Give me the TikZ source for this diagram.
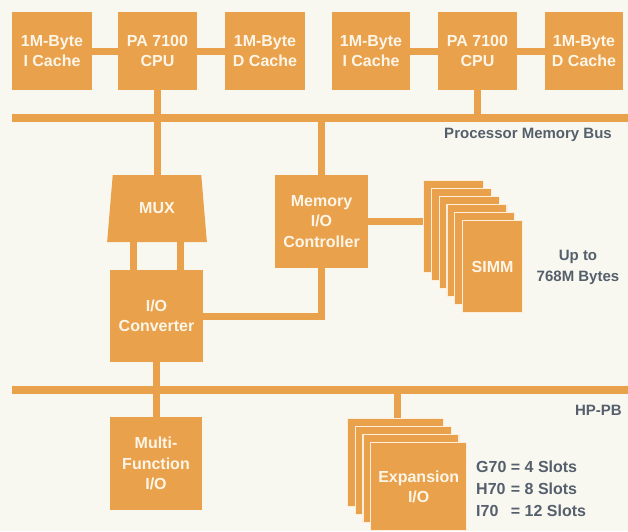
\documentclass[tikz,border=0pt]{standalone}
\usepackage{fontspec}
\setmainfont{Liberation Sans}
\usetikzlibrary{shapes.geometric}
\definecolor{hporange}{RGB}{233,161,76}
\definecolor{bgcream}{RGB}{248,248,240}
\definecolor{boxtext}{RGB}{253,246,232}
\definecolor{labelgray}{RGB}{85,96,108}
\definecolor{cardedge}{RGB}{252,238,218}
\begin{document}
\begin{tikzpicture}[x=1pt,y=-1pt,
  blk/.style={fill=hporange, text=boxtext, font=\fontsize{16}{20.5}\selectfont\bfseries, align=center, inner sep=0pt},
  link/.style={draw=hporange, line width=7pt},
  bus/.style={draw=hporange, line width=7.5pt},
  card/.style={fill=hporange, draw=cardedge, line width=1.2pt, inner sep=0pt, anchor=north west, text=boxtext, font=\fontsize{16}{20.5}\selectfont\bfseries, align=center},
  simmcard/.style={card, minimum width=60pt, minimum height=92pt},
  expcard/.style={card, minimum width=96pt, minimum height=88pt},
  lbl/.style={text=labelgray, font=\fontsize{15}{21}\selectfont\bfseries, align=center, inner sep=0pt}
]
\fill[bgcream] (0,0) rectangle (628,531);
\useasboundingbox (0,0) rectangle (628,531);

% top row
\node[blk, minimum width=80pt, minimum height=78pt] (ic1) at (52,51) {1M-Byte\\I Cache};
\node[blk, minimum width=79pt, minimum height=78pt] (cpu1) at (157.5,51) {PA 7100\\CPU};
\node[blk, minimum width=80pt, minimum height=78pt] (dc1) at (265,51) {1M-Byte\\D Cache};
\node[blk, minimum width=78pt, minimum height=78pt] (ic2) at (371,51) {1M-Byte\\I Cache};
\node[blk, minimum width=79pt, minimum height=78pt] (cpu2) at (477.5,51) {PA 7100\\CPU};
\node[blk, minimum width=78pt, minimum height=78pt] (dc2) at (584,51) {1M-Byte\\D Cache};
\draw[link] (ic1) -- (cpu1);
\draw[link] (cpu1) -- (dc1);
\draw[link] (ic2) -- (cpu2);
\draw[link] (cpu2) -- (dc2);

% processor memory bus
\coordinate (pmbL) at (12,118);
\coordinate (pmbR) at (628,118);
\draw[bus] (pmbL) -- (pmbR);
\draw[link] (cpu1.south) -- (cpu1.south |- pmbL);
\draw[link] (cpu2.south) -- (cpu2.south |- pmbL);
\node[lbl, anchor=east] (pmblabel) at (612,135) {Processor Memory Bus};

% MUX
\node[trapezium, trapezium angle=78.6, trapezium stretches=true, minimum width=100pt, minimum height=67pt,
      fill=hporange, text=boxtext, font=\fontsize{16}{20.5}\selectfont\bfseries, inner sep=0pt] (mux) at (157,208.5) {MUX};
\draw[link] (mux.north) -- (mux.north |- pmbL);

% memory I/O controller
\node[blk, minimum width=93pt, minimum height=93pt] (mioc) at (321.5,221.5) {Memory\\I/O\\Controller};
\draw[link] (mioc.north) -- (mioc.north |- pmbL);

% I/O converter
\node[blk, minimum width=93pt, minimum height=92pt] (ioc) at (156.5,316) {I/O\\Converter};
\draw[link] ([xshift=-24pt]mux.south) -- ([xshift=-24pt]mux.south |- ioc.north);
\draw[link] ([xshift=23pt]mux.south) -- ([xshift=23pt]mux.south |- ioc.north);
\draw[link] (mioc.south) |- (ioc.east);

% SIMM stack
\foreach \i in {0,...,4} {
  \node[simmcard] (simm\i) at ({423+7.8*\i},{180+8*\i}) {};
}
\node[simmcard] (simm5) at (462,220) {SIMM};
\draw[link] (mioc.east) -- (mioc.east -| simm0.west);
\node[lbl] (upto) at (578,267) {Up to\\768M Bytes};

% HP-PB bus
\coordinate (hpbL) at (12,390);
\coordinate (hpbR) at (628,390);
\draw[bus] (hpbL) -- (hpbR);
\draw[link] (ioc.south) -- (ioc.south |- hpbL);
\node[lbl, anchor=east] (hppb) at (622,410) {HP-PB};

% multi-function I/O
\node[blk, minimum width=92pt, minimum height=93pt] (mfio) at (156,463.5) {Multi-\\Function\\I/O};
\draw[link] (mfio.north) -- (mfio.north |- hpbL);

% expansion stack
\foreach \i in {0,...,2} {
  \node[expcard] (exp\i) at ({347+7.7*\i},{418+8*\i}) {};
}
\node[expcard] (exp3) at (370.1,442) {Expansion\\I/O};
\draw[link] ([xshift=2pt]exp0.north) -- ([xshift=2pt]exp0.north |- hpbL);

\node[lbl, anchor=west, font=\fontsize{16}{22}\selectfont\bfseries] (slots) at (476,490)
  {\begin{tabular}{@{}l@{\ }l@{}}G70 & = 4 Slots\\ H70 & = 8 Slots\\ I70 & = 12 Slots\end{tabular}};
\end{tikzpicture}
\end{document}
